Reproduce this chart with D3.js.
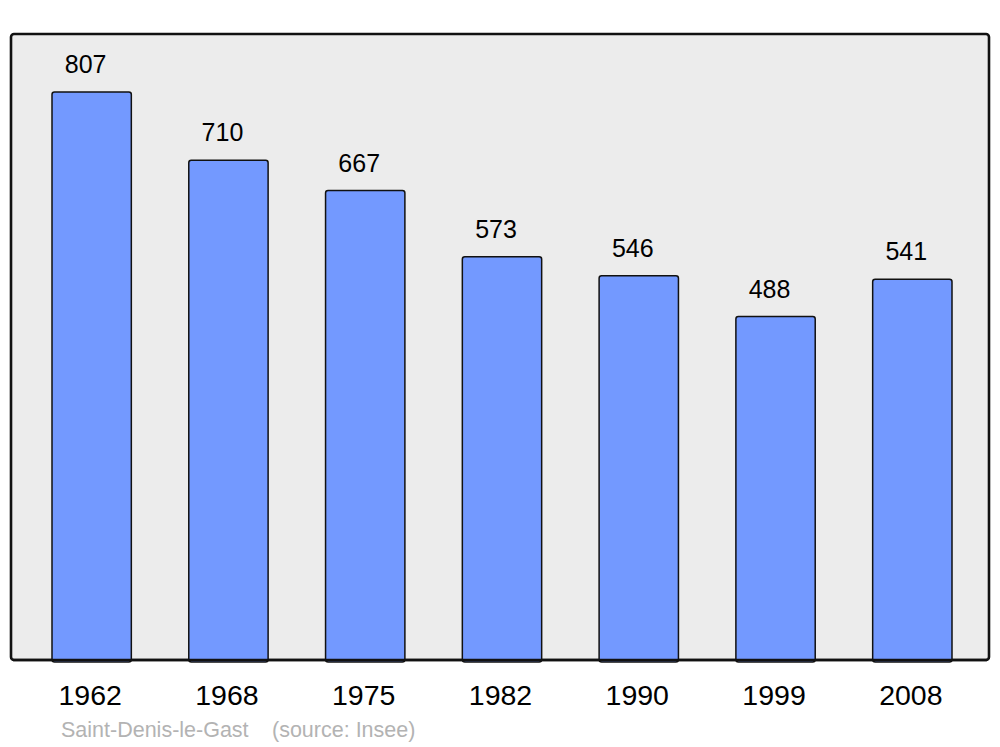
<!DOCTYPE html>
<html>
<head>
<meta charset="utf-8">
<script src="https://cdn.jsdelivr.net/npm/d3@7"></script>
<style>
  html, body { margin: 0; padding: 0; background: #ffffff; }
  svg { display: block; }
  text { font-family: "Liberation Sans", Arial, sans-serif; }
</style>
</head>
<body>
<svg id="chart" width="1000" height="747"></svg>
<script>
const years = ["1962", "1968", "1975", "1982", "1990", "1999", "2008"];
const population = [807, 710, 667, 573, 546, 488, 541];
const commune = "Saint-Denis-le-Gast";
const sourceNote = "(source: Insee)";

const svg = d3.select("#chart");
const frame = { left: 11, right: 989, top: 34, bottom: 660 };

const x = d3.scaleBand().domain(years).range([52, 952]).paddingInner(0.42).paddingOuter(0);
const y = d3.scaleLinear().domain([0, 889.5]).range([frame.bottom, frame.top]);

svg.append("rect")
  .attr("x", frame.left).attr("y", frame.top)
  .attr("width", frame.right - frame.left).attr("height", frame.bottom - frame.top)
  .attr("rx", 3).attr("ry", 3)
  .attr("fill", "#ececec").attr("stroke", "#111").attr("stroke-width", 2.6);

const data = years.map((yr, i) => ({ year: yr, value: population[i] }));

svg.append("g").selectAll("rect").data(data).join("rect")
  .attr("x", d => x(d.year))
  .attr("y", d => y(d.value))
  .attr("width", x.bandwidth())
  .attr("height", d => y(0) - y(d.value) + 2)
  .attr("rx", 2.5).attr("ry", 2.5)
  .attr("fill", "#7399ff").attr("stroke", "#111").attr("stroke-width", 1.5);

// redraw frame bottom edge over bars
svg.append("line")
  .attr("x1", frame.left + 2).attr("x2", frame.right - 2)
  .attr("y1", frame.bottom).attr("y2", frame.bottom)
  .attr("stroke", "#111").attr("stroke-width", 2.6);

svg.append("g").selectAll("text").data(data).join("text")
  .attr("x", d => x(d.year) + x.bandwidth() / 2 - 6)
  .attr("y", d => y(d.value) - 19)
  .attr("text-anchor", "middle")
  .attr("font-size", 25)
  .attr("fill", "#000")
  .text(d => d.value);

svg.append("g").selectAll("text").data(years).join("text")
  .attr("x", d => x(d) + x.bandwidth() / 2 - 1.5)
  .attr("y", 705)
  .attr("text-anchor", "middle")
  .attr("font-size", 28.5)
  .attr("fill", "#000")
  .text(d => d);

svg.append("text")
  .attr("x", 61).attr("y", 737)
  .attr("font-size", 21.5).attr("fill", "#b3b3b3")
  .text(commune);
svg.append("text")
  .attr("x", 272).attr("y", 737)
  .attr("font-size", 21.5).attr("fill", "#b3b3b3")
  .text(sourceNote);
</script>
</body>
</html>
